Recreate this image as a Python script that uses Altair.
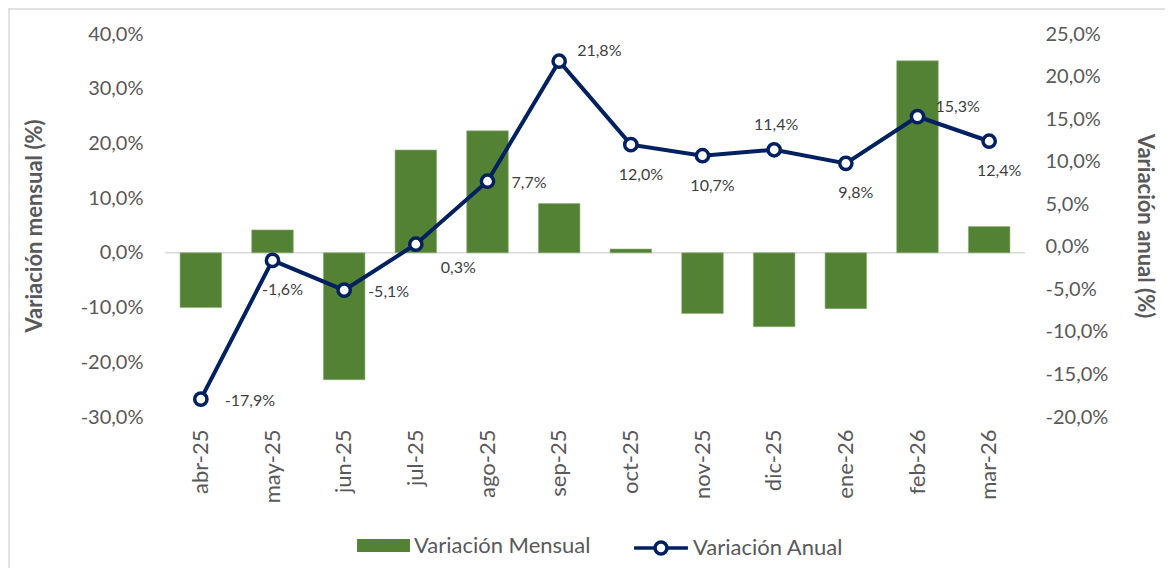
import altair as alt
import pandas as pd

months = ["abr-25", "may-25", "jun-25", "jul-25", "ago-25", "sep-25",
          "oct-25", "nov-25", "dic-25", "ene-26", "feb-26", "mar-26"]
mensual = [-10.0, 4.2, -23.2, 18.8, 22.3, 9.0, 0.7, -11.1, -13.5, -10.2, 35.1, 4.8]
anual = [-17.9, -1.6, -5.1, 0.3, 7.7, 21.8, 12.0, 10.7, 11.4, 9.8, 15.3, 12.4]
label_pos = ["right", "below", "right", "belowright", "right", "aboveright",
             "below", "below", "above", "below", "aboveright", "below"]

df = pd.DataFrame({"mes": months, "mensual": mensual, "anual": anual, "pos": label_pos})
df["lab"] = [f"{v:.1f}".replace(".", ",") + "%" for v in anual]
df["s1"] = "Variación Mensual"
df["s2"] = "Variación Anual"

FONT = "Lato"
GREY = "#595959"
NAVY = "#002060"
GREEN = "#548235"

pct_expr = "replace(replace(format(datum.value, '.1f'), '.', ','), '\u2212', '-') + '%'"

x = alt.X("mes:N", sort=months, title=None,
          scale=alt.Scale(paddingInner=0.42, paddingOuter=0.21),
          axis=alt.Axis(labelAngle=270, labelAlign="right", labelBaseline="middle",
                        labelPadding=12, ticks=False, domain=False,
                        labelFontSize=22, labelColor=GREY, labelFont=FONT))

left_axis = alt.Axis(orient="left", values=list(range(-30, 41, 10)), labelExpr=pct_expr,
                     grid=False, ticks=False, domain=False, labelFontSize=20,
                     labelColor=GREY, labelFont=FONT, labelPadding=22,
                     titleFont=FONT, titleFontSize=22, titleColor=GREY,
                     titleFontWeight="bold", titlePadding=34)
right_axis = alt.Axis(orient="right", values=list(range(-20, 26, 5)), labelExpr=pct_expr,
                      grid=False, ticks=False, domain=False, labelFontSize=20,
                      labelColor=GREY, labelFont=FONT, labelPadding=20,
                      titleFont=FONT, titleFontSize=22, titleColor=GREY,
                      titleFontWeight="bold", titlePadding=25)

yl_scale = alt.Scale(domain=[-30, 40], nice=False)
yr_scale = alt.Scale(domain=[-20, 25], nice=False)

base = alt.Chart(df)

bars = base.mark_bar(color=GREEN, stroke="#8fb07a", strokeWidth=0.6).encode(
    x=x,
    y=alt.Y("mensual:Q", scale=yl_scale, title="Variación mensual (%)", axis=left_axis),
    color=alt.Color("s1:N", scale=alt.Scale(domain=["Variación Mensual"], range=[GREEN]),
                    legend=alt.Legend(title=None, orient="none", legendX=192, legendY=485,
                                      symbolType="M-1,-0.25L1,-0.25L1,0.25L-1,0.25Z",
                                      symbolSize=2800, symbolStrokeWidth=0,
                                      labelFontSize=22, labelColor=GREY, labelFont=FONT,
                                      labelOffset=4, labelLimit=400, padding=0)),
)

zero = alt.Chart(pd.DataFrame({"z": [0]})).mark_rule(color="#d9d9d9", strokeWidth=1.5).encode(
    y=alt.Y("z:Q", scale=yl_scale, title="Variación mensual (%)", axis=left_axis))

left = alt.layer(zero, bars)

yr = alt.Y("anual:Q", scale=yr_scale, title="Variación anual (%)", axis=right_axis)

line = base.mark_line(color=NAVY, strokeWidth=4).encode(
    x=x, y=yr,
    stroke=alt.Stroke("s2:N", scale=alt.Scale(domain=["Variación Anual"], range=[NAVY]),
                      legend=alt.Legend(title=None, orient="none", legendX=467, legendY=485,
                                        symbolType="M-1,0L-0.22,0M0.22,0A0.22,0.22 0 1,1 -0.22,0A0.22,0.22 0 1,1 0.22,0M0.22,0L1,0",
                                        symbolSize=2900, symbolStrokeWidth=3.5,
                                        symbolFillColor="white",
                                        labelFontSize=22, labelColor=GREY, labelFont=FONT,
                                        labelOffset=3, labelLimit=400, padding=0)),
)

points = base.mark_point(filled=True, fill="white", stroke=NAVY, strokeWidth=3.5,
                         size=150, opacity=1).encode(x=x, y=yr)

def labels(pos, align, dx, dy):
    return base.transform_filter(alt.datum.pos == pos).mark_text(
        align=align, baseline="middle", dx=dx, dy=dy, font=FONT, fontSize=16,
        color="#404040").encode(x=x, y=yr, text="lab:N")

txt = alt.layer(
    labels("right", "left", 24, 2),
    labels("below", "center", 10, 30),
    labels("belowright", "left", 25, 24),
    labels("aboveright", "left", 18, -10),
    labels("above", "center", 2, -25),
)

right = alt.layer(line, points, txt)

# chart frame (left and top edges)
frame = alt.Chart(pd.DataFrame({"f": [0]})).mark_rule(color="#d9d9d9", strokeWidth=1.5)
frame_l = frame.encode(x=alt.value(-156), y=alt.value(-26), y2=alt.value(540))
frame_t = frame.encode(x=alt.value(-156), x2=alt.value(1000), y=alt.value(-25))

chart = alt.layer(left, right, frame_l, frame_t).resolve_scale(
    y="independent", color="independent").properties(
    width=860, height=383,
    padding={"left": 157, "top": 26, "right": 141, "bottom": 151},
    autosize=alt.AutoSizeParams(type="none"),
).configure(font=FONT, background="white").configure_view(stroke=None)

chart.save("out.html", embed_options={"renderer": "svg", "actions": False})
